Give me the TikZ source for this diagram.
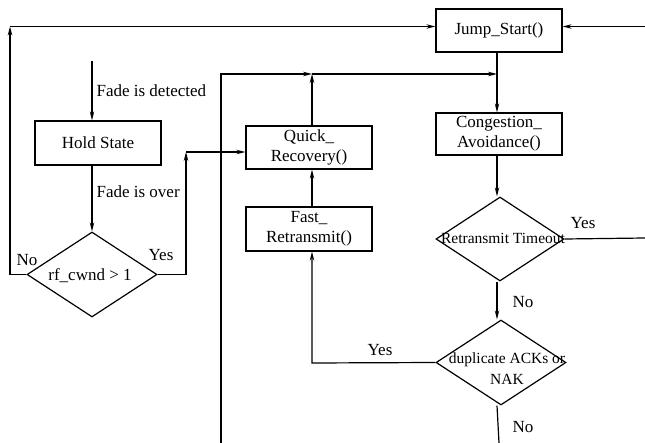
\documentclass[tikz,border=0pt]{standalone}
\usepackage{fontspec}
\setmainfont{Liberation Serif}
\usetikzlibrary{arrows.meta,shapes.geometric}
\begin{document}
\begin{tikzpicture}[x=1pt,y=-1pt, line width=1.2pt,
 box/.style={draw, rectangle, minimum width=126pt, minimum height=43pt, inner sep=0pt, align=center, font=\fontsize{17}{20}\selectfont},
 dia/.style={draw, diamond, inner sep=0pt, minimum width=130pt, minimum height=85pt},
 lbl/.style={font=\fontsize{17}{20}\selectfont, inner sep=0pt},
 small/.style={font=\fontsize{15.5}{21}\selectfont, inner sep=0pt, align=center},
 arr/.style={-{Stealth[length=9pt,width=4.5pt]}},
]
\useasboundingbox (0,0) rectangle (645,443);

% nodes
\node[box] (js) at (499,30.5) {Jump\_Start()};
\node[box, minimum height=42pt] (ca) at (499,134) {Congestion\_\\Avoidance()};
\node[box] (qr) at (309,147.5) {Quick\_\\Recovery()};
\node[box, minimum height=44pt] (fr) at (309,229) {Fast\_\\Retransmit()};
\node[box, minimum height=44pt] (hs) at (98,143) {Hold State};
\node[dia] (d1) at (92,274.5) {};
\node[lbl] (t1) at (90,276) {rf\_cwnd > 1};
\node[dia, minimum width=128pt, minimum height=84pt] (d2) at (500,239) {};
\node[small] (t2) at (503,238) {Retransmit Timeout};
\node[dia] (d3) at (501,362.5) {};
\node[small] (t3) at (507,369) {duplicate ACKs or\\NAK};

% coordinates
\coordinate (tl) at (10,26.5);
\coordinate (tr) at (645,26.5);
\coordinate (in) at (92,61);
\coordinate (yr) at (186,152);
\coordinate (bl) at (221,443);
\coordinate (hj) at (221,74);
\coordinate (j1) at (312,74);
\coordinate (j2) at (497,74);
\coordinate (rt) at (645,238);
\coordinate (bt) at (499,443);
\coordinate (fy) at (312,363);

% connectors
\draw[arr] (d1.west) -- (tl |- d1.west) -- (tl);
\draw[arr] (tl) -- (js.west |- tl);
\draw[arr] (tr) -- (js.east |- tr);
\draw[arr] (j2 |- js.south) -- (j2 |- ca.north);
\draw[arr] (in) -- (in |- hs.north) node[lbl, anchor=west, pos=0.5, xshift=4pt] (l1) {Fade is detected};
\draw[arr] (in |- hs.south) -- (d1.north) node[lbl, anchor=west, pos=0.4, xshift=4pt] (l2) {Fade is over};
\draw[arr] (d1.east) -- (yr |- d1.east) -- (yr);
\draw[arr] (yr) -- (qr.west |- yr);
\draw[arr] (bl) -- (hj) -- (j1);
\draw[arr] (j1) -- (j2);
\draw[arr] (j1 |- qr.north) -- (j1);
\draw[arr] (j1 |- fr.north) -- (j1 |- qr.south);
\draw[arr] (j2 |- ca.south) -- (j2 |- d2.north);
\draw (d2.east) -- (rt);
\draw[arr] (j2 |- d2.south) -- (j2 |- d3.north);
\draw[arr] (d3.west) -- (fy) -- (fy |- fr.south);
\draw (j2 |- d3.south) -- (bt);

% labels
\node[lbl] (n1) at (27,260) {No};
\node[lbl] (y1) at (161,255) {Yes};
\node[lbl] (y2) at (583,223) {Yes};
\node[lbl] (n2) at (523,302) {No};
\node[lbl] (y3) at (380,350) {Yes};
\node[lbl] (n3) at (523,427) {No};
\end{tikzpicture}
\end{document}
